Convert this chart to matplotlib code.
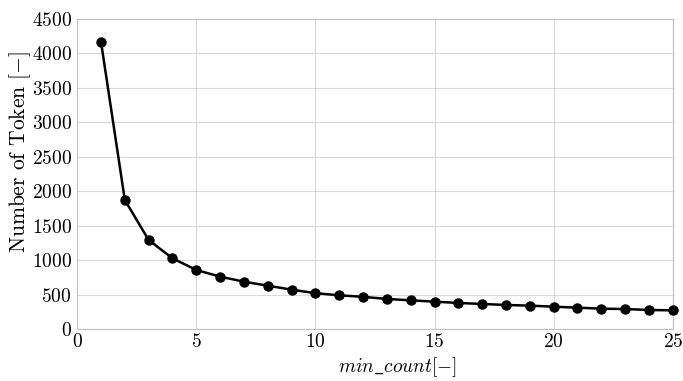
import matplotlib
matplotlib.use('Agg')
import matplotlib.pyplot as plt

# min_count vs vocabulary size
min_count = list(range(1, 26))
num_tokens = [4170, 1873, 1292, 1026, 857, 760, 687, 629, 571, 520,
              489, 467, 436, 416, 397, 378, 363, 349, 339, 324,
              310, 295, 290, 276, 271]

plt.rcParams['font.family'] = 'serif'
plt.rcParams['font.serif'] = ['cmr10']
plt.rcParams['mathtext.fontset'] = 'cm'
plt.rcParams['axes.formatter.use_mathtext'] = True

fig = plt.figure(figsize=(6.83, 3.81), dpi=100)
ax = fig.add_axes([0.113, 0.1365, 0.872, 0.8135])

ax.plot(min_count, num_tokens, color='black', lw=1.8, marker='o', ms=6.5, zorder=3, clip_on=False)

ax.set_xlim(0, 25)
ax.set_ylim(0, 4500)
ax.set_xticks(range(0, 26, 5))
ax.set_yticks(range(0, 4501, 500))
ax.grid(True, color='#d9d9d9', lw=0.8)
ax.set_axisbelow(True)
for s in ax.spines.values():
    s.set_color('#bfbfbf')
    s.set_linewidth(0.8)
ax.tick_params(length=0, labelsize=14)
ax.tick_params(axis='y', pad=4)
ax.tick_params(axis='x', pad=3)

ax.set_xlabel(r'$min\_count[-]$', fontsize=14)
ax.set_ylabel(r'Number of Token $[-]$', fontsize=15.5)
ax.xaxis.set_label_coords(0.537, -0.084)
ax.yaxis.set_label_coords(-0.074, 0.571)

fig.savefig('out.png', dpi=100)
